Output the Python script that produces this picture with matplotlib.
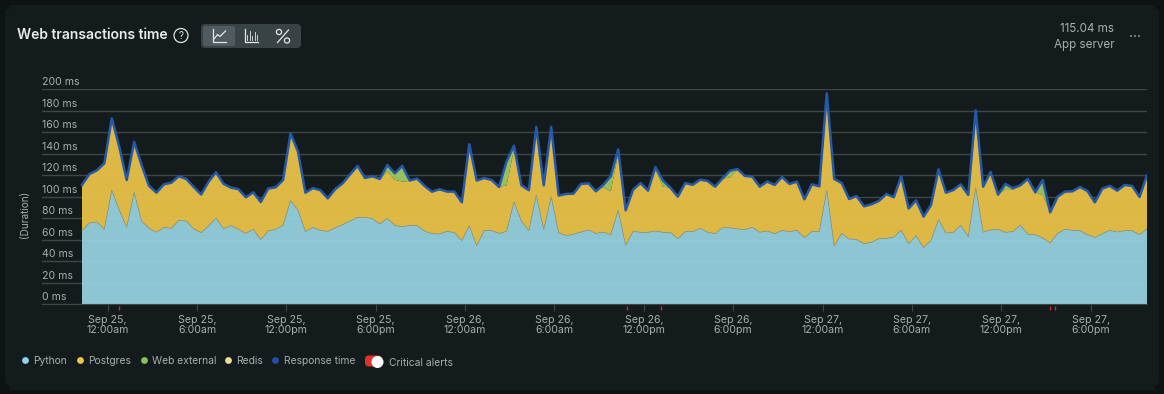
import numpy as np
import pandas as pd
import matplotlib
matplotlib.use("Agg")
import matplotlib.pyplot as plt
from matplotlib.patches import Circle, FancyBboxPatch, Rectangle
from matplotlib.transforms import ScaledTranslation

plt.rcParams['font.family'] = ['Inter', 'DejaVu Sans']

# values, 30 minute buckets, all in ms
response_time = [
    111, 121, 124.5, 131, 173, 146.6, 115.5, 151, 129.5, 110, 103.7, 111.5,
    113, 119, 116.5, 109, 102, 114, 122.7, 112, 108.4, 107, 99.4, 104,
    95, 107.5, 108.7, 115.5, 159, 142, 103.7, 108, 106, 98.4, 107, 112.4,
    120.8, 128.6, 117.4, 119, 116.5, 129.5, 121.7, 128.6, 115, 116.8, 110, 104.6,
    107, 104.7, 104.7, 94.7, 148.8, 115, 117.4, 115.5, 109, 132.6, 147.5, 110.6,
    106, 165, 110.6, 165, 101, 102.5, 102.8, 111.8, 112.4, 105, 111, 119,
    144, 87.3, 106.5, 112.7, 105.6, 127.6, 115, 108.4, 100, 112.7, 111, 115.8,
    114.6, 109.3, 117, 124, 125.8, 119.3, 118.6, 109.3, 114, 110.9, 118.3, 111.8,
    114, 97.5, 111.5, 109.6, 196.3, 116.5, 112.7, 97.8, 100.6, 91, 92.9, 96,
    102.5, 99.4, 119, 89, 96.6, 81.4, 92.2, 125.5, 103.7, 106.2, 111.5, 101.6,
    180.4, 109.3, 123, 101.9, 111.8, 107.8, 110.6, 116.5, 104, 115.5, 85.4, 100,
    104.7, 105, 109, 105.3, 94.7, 107.5, 110, 105.6, 110.9, 110, 99.7, 120,
]
python = [
    68.3, 75.5, 76.4, 69.6, 106, 87.6, 71.4, 104, 77.3, 70.5, 66.8, 71.4,
    70.5, 78, 77.3, 70, 66.5, 72.7, 80, 70.2, 73, 69.6, 65.8, 69.6,
    60, 68, 69.6, 73.3, 96.3, 87.6, 67.4, 71.4, 68.6, 67.7, 71, 74,
    77.3, 80.7, 80.7, 79.5, 74.5, 79.8, 73.3, 72, 73.3, 73, 68, 65.5,
    65.2, 67.7, 66.5, 59, 73, 54.3, 68.6, 68.3, 65.8, 67.7, 95, 77.3,
    68.3, 101.5, 69.3, 100, 66.5, 63.7, 65, 67, 69, 65.8, 67, 64.6,
    87.3, 54.7, 67.7, 66.8, 66.8, 68, 66.8, 66.8, 60.9, 67.4, 67.4, 70.5,
    67, 65.5, 71, 71, 70, 69.3, 71.4, 66.8, 68, 65.5, 68.6, 67.4,
    68.6, 61.8, 67.4, 67.7, 106, 54, 65.8, 60.6, 60, 56.2, 57.5, 60.9,
    61.2, 62.4, 68.6, 56.2, 63.7, 52.5, 59.3, 78.6, 66, 66.8, 73.3, 62.7,
    108.4, 66.8, 69, 69.6, 66.8, 67.4, 73.3, 65, 64.6, 61.5, 57, 65.8,
    69.6, 68.6, 68.3, 64.6, 62, 65.5, 68.6, 67, 68.3, 68.3, 64.6, 70,
]
web_external = [
    0, 0, 0, 0, 0, 0, 0, 0, 0, 0, 0, 0,
    0, 0, 0, 0, 0, 0, 0, 0, 0, 0, 0, 0,
    0, 0, 0, 0, 0, 0, 0, 0, 0, 0, 0, 0,
    0, 0, 0, 0, 0, 6, 6, 14.6, 0.3, 0, 0, 0,
    1, 0.5, 0, 0, 0, 0, 0, 0, 0, 22, 4, 0,
    0, 0, 0, 0, 0, 0, 0, 0, 0, 0, 2, 14,
    4, 0, 0, 0, 0, 3, 5.7, 0, 0, 0, 0, 0,
    0, 0, 0.5, 6, 1, 0, 0, 0, 0, 0, 0, 0,
    0, 0, 0, 0, 0, 0, 0, 0, 0, 0, 0, 0,
    0, 0, 0, 0, 0, 0, 0, 0, 0, 0, 0, 0,
    0, 0, 0, 0, 4.7, 1, 0, 0, 0, 14, 0, 0,
    0, 0, 0, 0, 0, 0, 0, 0, 0, 0, 0, 0,
]
# postgres is whatever is left under the response time line
postgres = list(np.array(response_time) - np.array(python) - np.array(web_external))

y_ticks = [0, 20, 40, 60, 80, 100, 120, 140, 160, 180, 200]
y_tick_labels = [str(v) + " ms" for v in y_ticks]
x_tick_times = ["2023-09-25 00:00", "2023-09-25 06:00", "2023-09-25 12:00", "2023-09-25 18:00",
                "2023-09-26 00:00", "2023-09-26 06:00", "2023-09-26 12:00", "2023-09-26 18:00",
                "2023-09-27 00:00", "2023-09-27 06:00", "2023-09-27 12:00", "2023-09-27 18:00"]
x_tick_labels = ["Sep 25,\n12:00am", "Sep 25,\n6:00am", "Sep 25,\n12:00pm", "Sep 25,\n6:00pm",
                 "Sep 26,\n12:00am", "Sep 26,\n6:00am", "Sep 26,\n12:00pm", "Sep 26,\n6:00pm",
                 "Sep 27,\n12:00am", "Sep 27,\n6:00am", "Sep 27,\n12:00pm", "Sep 27,\n6:00pm"]
alert_times = ["2023-09-25 00:48", "2023-09-26 10:52", "2023-09-26 13:09",
               "2023-09-27 15:18", "2023-09-27 15:38"]
legend_labels = ["Python", "Postgres", "Web external", "Redis", "Response time"]
legend_colors = ["#8fd3e8", "#f0c648", "#85c25a", "#f0dc96", "#1f4fb0"]

W, H = 1164, 394
BG = "#141b1d"
GRID = "#3f4648"
TEXT = "#a9aeb0"

fig = plt.figure(figsize=(W / 100, H / 100), dpi=100, facecolor="#0d1214")

# overlay in pixel coordinates for the panel, header and legend
chrome = fig.add_axes([0, 0, 1, 1], zorder=0)
chrome.set_xlim(0, W)
chrome.set_ylim(H, 0)
chrome.axis("off")
chrome.add_patch(FancyBboxPatch((5, 9), W - 10, 376, boxstyle="round,pad=0,rounding_size=4", lw=0, fc=BG))
chrome.add_patch(Rectangle((9, 4.5), W - 18, 385, lw=0, fc=BG))

# main chart
ax = fig.add_axes([42 / W, 1 - 304 / H, (1147 - 42) / W, (304 - 89.3) / H], zorder=1)
ax.patch.set_alpha(0)

times = pd.date_range("2023-09-24 22:17", periods=len(python), freq="30min")
ax.stackplot(times, python, postgres, web_external,
             colors=["#98d5e4", "#efc649", "#a2cf65"], alpha=0.92, lw=0, zorder=2)
ax.plot(times, python, color="#8d9b84", lw=0.5, zorder=3)
ax.plot(times, response_time, color="#2458a8", lw=1.8, zorder=4, solid_joinstyle="round")

left_pad = pd.Timedelta(hours=40 / 14.895)
ax.set_xlim(times[0] - left_pad, times[-1])
ax.set_ylim(0, 200)

ax.set_yticks(y_ticks, y_tick_labels)
ax.grid(axis="y", color=GRID, lw=1, zorder=1)
ax.tick_params(axis="y", length=0, pad=0, labelsize=7.6, labelcolor=TEXT)
lift = ScaledTranslation(0, 2 / 100, fig.dpi_scale_trans)
for label in ax.get_yticklabels():
    label.set_ha("left")
    label.set_va("bottom")
    label.set_transform(label.get_transform() + lift)
ax.set_ylabel("(Duration)", color=TEXT, fontsize=7.2)
ax.yaxis.set_label_coords(-12 / 1105, 90 / 214.7)

ax.set_xticks(pd.to_datetime(x_tick_times), x_tick_labels)
ax.tick_params(axis="x", length=5, width=0.8, color=GRID, pad=3, labelsize=7.6, labelcolor=TEXT)
for label in ax.get_xticklabels():
    label.set_linespacing(1.0)

for side in ["top", "left", "right"]:
    ax.spines[side].set_visible(False)
ax.spines["bottom"].set_color(GRID)

ax.vlines(pd.to_datetime(alert_times), -0.01, -0.03, color="#d0282d", lw=1,
          transform=ax.get_xaxis_transform(), clip_on=False)

# header
chrome.text(17, 34.5, "Web transactions time", color="#e8eaeb", fontsize=10, fontweight="semibold", va="center")
chrome.add_patch(Circle((181, 35.5), 7, fc="none", ec="#dfe1e2", lw=0.9))
chrome.text(181, 35.7, "?", color="#dfe1e2", fontsize=7, ha="center", va="center")

chrome.add_patch(FancyBboxPatch((203, 26), 96, 20, boxstyle="round,pad=2,rounding_size=4", lw=0, fc="#394346"))
chrome.add_patch(FancyBboxPatch((204, 27), 30, 18, boxstyle="round,pad=1,rounding_size=2", lw=0, fc="#505b5f"))
ICON = "#e4e7e8"
chrome.plot([212.5, 212.5, 226], [29, 41.5, 41.5], color=ICON, lw=0.9)
chrome.plot([214.5, 217.5, 220, 222, 225.5], [38.5, 34.5, 36.5, 34.5, 31], color=ICON, lw=0.9)
chrome.plot([244.5, 244.5, 258], [29, 41.5, 41.5], color=ICON, lw=0.9)
for bar_x, bar_top in zip([247, 249.5, 252, 254.5, 257], [35, 31, 36, 32, 35]):
    chrome.plot([bar_x, bar_x], [bar_top, 40], color=ICON, lw=0.6)
chrome.plot([277.5, 288.5], [42.5, 30], color=ICON, lw=0.9)
chrome.add_patch(Circle((279, 32), 2.6, fc="none", ec=ICON, lw=0.9))
chrome.add_patch(Circle((287, 40.5), 2.6, fc="none", ec=ICON, lw=0.9))

chrome.text(1114.5, 29, "115.04 ms", color=TEXT, fontsize=8.4, ha="right", va="center")
chrome.text(1114.5, 44.5, "App server", color=TEXT, fontsize=8.4, ha="right", va="center")
for dot_x in [1131, 1135, 1139]:
    chrome.add_patch(Circle((dot_x, 36), 0.8, fc="#c9cccd", lw=0))

# legend row
legend_dots = [25.5, 80.5, 144.5, 228.5, 275.5]
legend_text = [33.5, 88, 152, 236, 283.5]
for name, color, dot_x, text_x in zip(legend_labels, legend_colors, legend_dots, legend_text):
    chrome.add_patch(Circle((dot_x, 360.5), 3.4, fc=color, lw=0))
    chrome.text(text_x, 361.5, name, color=TEXT, fontsize=7.4, va="center")
chrome.add_patch(FancyBboxPatch((368, 358.5), 11, 5, boxstyle="round,pad=3,rounding_size=4", lw=0, fc="#e0322b"))
chrome.add_patch(Circle((377.5, 362), 6, fc="white", lw=0))
chrome.text(389, 362.5, "Critical alerts", color=TEXT, fontsize=7.4, va="center")

plt.savefig("out.png", dpi=100)
